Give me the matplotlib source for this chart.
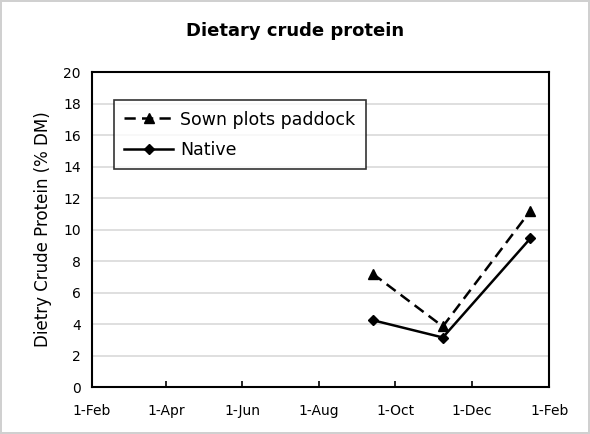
import datetime as dt
import matplotlib
matplotlib.use("Agg")
import matplotlib.pyplot as plt

# data
sample_dates = [dt.date(2023, 9, 13), dt.date(2023, 11, 8), dt.date(2024, 1, 17)]
sown = [7.2, 3.85, 11.2]
native = [4.25, 3.15, 9.45]

tick_dates = [dt.date(2023, 2, 1), dt.date(2023, 4, 1), dt.date(2023, 6, 1),
              dt.date(2023, 8, 1), dt.date(2023, 10, 1), dt.date(2023, 12, 1),
              dt.date(2024, 2, 1)]
tick_labels = ["1-Feb", "1-Apr", "1-Jun", "1-Aug", "1-Oct", "1-Dec", "1-Feb"]
y_ticks = list(range(0, 21, 2))

plt.rcParams['font.family'] = ['DejaVu Sans']

fig = plt.figure(figsize=(5.9, 4.34), dpi=100)
fig.patch.set_edgecolor('#d0d0d0')
fig.patch.set_linewidth(1.5)
ax = fig.add_axes([0.156, 0.108, 0.775, 0.726])

ax.plot(sample_dates, sown, color='black', lw=1.8, ls=(0, (4.5, 2.5)),
        marker='^', ms=7, label='Sown plots paddock')
ax.plot(sample_dates, native, color='black', lw=1.8, ls='-',
        marker='D', ms=5, label='Native')

ax.set_xlim(tick_dates[0], tick_dates[-1])
ax.set_ylim(0, 20)
ax.set_xticks(tick_dates)
ax.set_xticklabels(tick_labels, fontsize=10)
ax.set_yticks(y_ticks)
ax.set_yticklabels([str(v) for v in y_ticks], fontsize=10)
ax.tick_params(axis='x', direction='in', length=4, width=1.2, pad=12)
ax.tick_params(axis='y', length=0, pad=8)
ax.grid(axis='y', color='#d9d9d9', lw=1.2)
ax.set_axisbelow(True)
for s in ax.spines.values():
    s.set_linewidth(1.5)

ax.set_ylabel('Dietry Crude Protein (% DM)', fontsize=12, labelpad=8)
fig.suptitle('Dietary crude protein', fontsize=13, fontweight='bold', y=0.95)

leg = ax.legend(loc='upper left', bbox_to_anchor=(0.048, 0.911), borderaxespad=0,
                fontsize=12.5, frameon=True, fancybox=False, edgecolor='black',
                handlelength=2.8, handletextpad=0.4, borderpad=0.6,
                labelspacing=0.7)
leg.get_frame().set_linewidth(1.2)

fig.savefig('out.png', dpi=100)
